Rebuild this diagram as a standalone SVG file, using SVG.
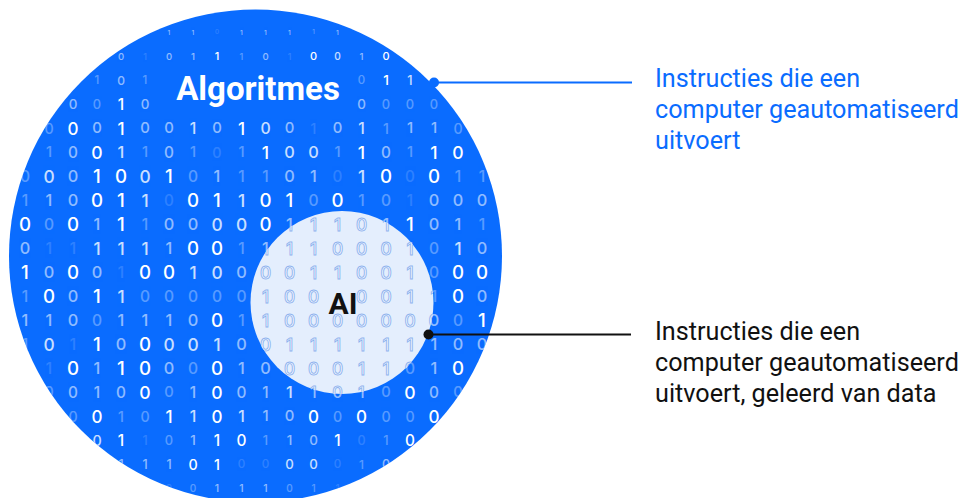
<svg xmlns="http://www.w3.org/2000/svg" xmlns:xlink="http://www.w3.org/1999/xlink" width="965" height="498" viewBox="0 0 965 498">
<style>
.dg{font-family:Inter,Roboto,"Liberation Sans",sans-serif;font-weight:500;text-anchor:middle;dominant-baseline:central}
.L0{opacity:var(--o0,.15);font-size:calc(var(--r)*var(--k0,.9))}
.L1{opacity:var(--o1,.32);font-size:calc(var(--r)*var(--k1,.92))}
.L2{opacity:var(--o2,.55);font-size:calc(var(--r)*var(--k2,.96))}
.L3{opacity:var(--o3,.78);font-size:calc(var(--r)*var(--k3,1.02))}
.L4{opacity:var(--o4,1);font-size:calc(var(--r)*var(--k4,1.1))}
.r0{--r:7px}.r1{--r:10px}.r2{--r:12.5px}.r3{--r:14px}.r4{--r:15.5px}.r5{--r:16px}
.rm{--r:17px}.r15{--r:16px}.r16{--r:15.5px}.r17{--r:14px}.r18{--r:13px}.r19{--r:11px}
.lbl{font-family:Roboto,"Liberation Sans",sans-serif;font-weight:700}
.note{font-family:Roboto,"Liberation Sans",sans-serif;font-size:25.2px}
.inner-digits{--o0:1;--o1:1;--o2:1;--o3:1;--o4:1;--k0:1.02;--k1:1.02;--k2:1.02;--k3:1.02;--k4:1.02}
</style>
<defs>
<clipPath id="cb"><circle cx="255.5" cy="256" r="246.5"/></clipPath>
<clipPath id="ci"><circle cx="342" cy="302.5" r="91.5"/></clipPath>
<g id="digits" class="dg">
<g class="r0" transform="translate(0,32)"><text x="169" class="L2">1</text><text x="193" class="L2">1</text><text x="217" class="L0">0</text><text x="241.5" class="L2">1</text><text x="265.5" class="L2">1</text><text x="289.5" class="L2">1</text><text x="313.5" class="L1">1</text><text x="337.5" class="L2">1</text></g>
<g class="r1" transform="translate(0,56)"><text x="121" class="L2">0</text><text x="145" class="L0">1</text><text x="169" class="L2">0</text><text x="193" class="L2">1</text><text x="217" class="L4">1</text><text x="241.5" class="L1">1</text><text x="265.5" class="L2">0</text><text x="289.5" class="L0">1</text><text x="313.5" class="L4">0</text><text x="337.5" class="L3">0</text><text x="361.5" class="L2">1</text><text x="386" class="L4">0</text></g>
<g class="r2" transform="translate(0,80)"><text x="97" class="L1">1</text><text x="121" class="L2">0</text><text x="145" class="L1">1</text><text x="361.5" class="L1">0</text><text x="386" class="L4">1</text><text x="410" class="L3">1</text></g>
<g class="r3" transform="translate(0,104)"><text x="73" class="L2">0</text><text x="97" class="L1">0</text><text x="121" class="L4">1</text><text x="145" class="L2">0</text><text x="361.5" class="L2">0</text><text x="386" class="L1">0</text><text x="410" class="L1">0</text><text x="434" class="L1">0</text></g>
<g class="r4" transform="translate(0,128)"><text x="49" class="L1">0</text><text x="73" class="L4">0</text><text x="97" class="L2">0</text><text x="121" class="L4">1</text><text x="145" class="L2">0</text><text x="169" class="L2">0</text><text x="193" class="L3">1</text><text x="217" class="L2">0</text><text x="241.5" class="L4">1</text><text x="265.5" class="L3">0</text><text x="289.5" class="L2">0</text><text x="313.5" class="L0">1</text><text x="337.5" class="L2">0</text><text x="361.5" class="L3">1</text><text x="386" class="L1">1</text><text x="410" class="L2">1</text><text x="434" class="L2">1</text><text x="458" class="L1">0</text></g>
<g class="r5" transform="translate(0,152)"><text x="49" class="L1">1</text><text x="73" class="L2">0</text><text x="97" class="L4">0</text><text x="121" class="L3">1</text><text x="145" class="L1">1</text><text x="169" class="L2">0</text><text x="193" class="L1">1</text><text x="217" class="L0">0</text><text x="241.5" class="L1">1</text><text x="265.5" class="L4">1</text><text x="289.5" class="L3">0</text><text x="313.5" class="L3">0</text><text x="337.5" class="L1">1</text><text x="361.5" class="L4">1</text><text x="386" class="L2">0</text><text x="410" class="L1">1</text><text x="434" class="L4">1</text><text x="458" class="L4">0</text></g>
<g class="rm" transform="translate(0,176)"><text x="25" class="L1">0</text><text x="49" class="L3">0</text><text x="73" class="L2">0</text><text x="97" class="L4">1</text><text x="121" class="L4">0</text><text x="145" class="L3">0</text><text x="169" class="L4">1</text><text x="193" class="L1">0</text><text x="217" class="L2">1</text><text x="241.5" class="L1">1</text><text x="265.5" class="L1">1</text><text x="289.5" class="L2">0</text><text x="313.5" class="L2">1</text><text x="337.5" class="L0">0</text><text x="361.5" class="L3">1</text><text x="386" class="L4">0</text><text x="410" class="L0">0</text><text x="434" class="L4">0</text><text x="458" class="L1">1</text><text x="482" class="L1">1</text></g>
<g class="rm" transform="translate(0,200)"><text x="25" class="L1">1</text><text x="49" class="L2">1</text><text x="73" class="L2">0</text><text x="97" class="L4">0</text><text x="121" class="L4">1</text><text x="145" class="L3">1</text><text x="169" class="L0">0</text><text x="193" class="L4">0</text><text x="217" class="L4">1</text><text x="241.5" class="L3">1</text><text x="265.5" class="L4">0</text><text x="289.5" class="L4">1</text><text x="313.5" class="L1">0</text><text x="337.5" class="L4">0</text><text x="361.5" class="L1">1</text><text x="386" class="L1">0</text><text x="410" class="L0">1</text><text x="434" class="L2">0</text><text x="458" class="L2">0</text><text x="482" class="L2">0</text></g>
<g class="rm" transform="translate(0,224)"><text x="25" class="L4">0</text><text x="49" class="L1">0</text><text x="73" class="L4">0</text><text x="97" class="L2">1</text><text x="121" class="L4">1</text><text x="145" class="L1">1</text><text x="169" class="L2">0</text><text x="193" class="L2">0</text><text x="217" class="L3">0</text><text x="241.5" class="L3">0</text><text x="265.5" class="L4">0</text><text x="289.5" class="L2">1</text><text x="313.5" class="L2">1</text><text x="337.5" class="L2">1</text><text x="361.5" class="L2">0</text><text x="386" class="L2">1</text><text x="410" class="L4">1</text><text x="434" class="L2">0</text><text x="458" class="L2">1</text><text x="482" class="L1">1</text></g>
<g class="rm" transform="translate(0,248)"><text x="25" class="L2">0</text><text x="49" class="L0">1</text><text x="73" class="L0">1</text><text x="97" class="L3">1</text><text x="121" class="L3">1</text><text x="145" class="L3">1</text><text x="169" class="L2">1</text><text x="193" class="L4">0</text><text x="217" class="L4">0</text><text x="241.5" class="L1">1</text><text x="265.5" class="L2">1</text><text x="289.5" class="L2">1</text><text x="313.5" class="L2">1</text><text x="337.5" class="L2">0</text><text x="361.5" class="L2">0</text><text x="386" class="L2">0</text><text x="410" class="L2">1</text><text x="434" class="L1">0</text><text x="458" class="L3">1</text><text x="482" class="L2">0</text></g>
<g class="rm" transform="translate(0,272)"><text x="25" class="L4">1</text><text x="49" class="L2">0</text><text x="73" class="L4">0</text><text x="97" class="L2">0</text><text x="121" class="L0">1</text><text x="145" class="L4">0</text><text x="169" class="L4">0</text><text x="193" class="L3">1</text><text x="217" class="L3">0</text><text x="241.5" class="L2">0</text><text x="265.5" class="L2">0</text><text x="289.5" class="L2">0</text><text x="313.5" class="L2">1</text><text x="337.5" class="L2">1</text><text x="361.5" class="L2">0</text><text x="386" class="L2">0</text><text x="410" class="L2">1</text><text x="434" class="L1">0</text><text x="458" class="L4">0</text><text x="482" class="L4">0</text></g>
<g class="rm" transform="translate(0,296)"><text x="25" class="L1">1</text><text x="49" class="L4">0</text><text x="73" class="L2">0</text><text x="97" class="L4">1</text><text x="121" class="L3">1</text><text x="145" class="L1">0</text><text x="169" class="L1">0</text><text x="193" class="L1">0</text><text x="217" class="L1">0</text><text x="241.5" class="L1">0</text><text x="265.5" class="L2">1</text><text x="289.5" class="L2">0</text><text x="313.5" class="L2">0</text><text x="361.5" class="L2">0</text><text x="386" class="L2">0</text><text x="410" class="L2">1</text><text x="434" class="L1">1</text><text x="458" class="L4">0</text><text x="482" class="L2">0</text></g>
<g class="rm" transform="translate(0,320)"><text x="25" class="L2">1</text><text x="49" class="L2">1</text><text x="73" class="L2">0</text><text x="97" class="L1">0</text><text x="121" class="L2">1</text><text x="145" class="L2">1</text><text x="169" class="L2">1</text><text x="193" class="L2">0</text><text x="217" class="L4">0</text><text x="241.5" class="L1">1</text><text x="265.5" class="L2">1</text><text x="289.5" class="L2">0</text><text x="313.5" class="L2">0</text><text x="337.5" class="L2">0</text><text x="361.5" class="L2">0</text><text x="386" class="L2">0</text><text x="410" class="L2">0</text><text x="434" class="L2">0</text><text x="458" class="L1">0</text><text x="482" class="L4">1</text></g>
<g class="rm" transform="translate(0,344)"><text x="25" class="L1">1</text><text x="49" class="L3">0</text><text x="73" class="L0">1</text><text x="97" class="L4">1</text><text x="121" class="L2">0</text><text x="145" class="L4">0</text><text x="169" class="L3">0</text><text x="193" class="L3">0</text><text x="217" class="L3">1</text><text x="241.5" class="L2">0</text><text x="265.5" class="L2">0</text><text x="289.5" class="L2">1</text><text x="313.5" class="L2">1</text><text x="337.5" class="L2">1</text><text x="361.5" class="L2">1</text><text x="386" class="L2">1</text><text x="410" class="L2">1</text><text x="434" class="L2">1</text><text x="458" class="L2">0</text><text x="482" class="L2">0</text></g>
<g class="rm" transform="translate(0,368)"><text x="49" class="L0">1</text><text x="73" class="L4">0</text><text x="97" class="L2">1</text><text x="121" class="L4">1</text><text x="145" class="L4">0</text><text x="169" class="L2">0</text><text x="193" class="L1">0</text><text x="217" class="L4">0</text><text x="241.5" class="L2">1</text><text x="265.5" class="L2">0</text><text x="289.5" class="L2">0</text><text x="313.5" class="L2">0</text><text x="337.5" class="L2">0</text><text x="361.5" class="L2">1</text><text x="386" class="L2">1</text><text x="410" class="L1">0</text><text x="434" class="L2">1</text><text x="458" class="L4">0</text></g>
<g class="r15" transform="translate(0,392)"><text x="49" class="L1">0</text><text x="73" class="L2">0</text><text x="97" class="L2">1</text><text x="121" class="L2">0</text><text x="145" class="L4">0</text><text x="169" class="L1">0</text><text x="193" class="L2">1</text><text x="217" class="L4">0</text><text x="241.5" class="L2">0</text><text x="265.5" class="L2">1</text><text x="289.5" class="L3">1</text><text x="313.5" class="L2">1</text><text x="337.5" class="L2">0</text><text x="361.5" class="L2">1</text><text x="386" class="L1">0</text><text x="410" class="L4">0</text><text x="434" class="L2">0</text><text x="458" class="L1">0</text></g>
<g class="r16" transform="translate(0,416)"><text x="73" class="L1">0</text><text x="97" class="L4">0</text><text x="121" class="L1">1</text><text x="145" class="L1">0</text><text x="169" class="L4">1</text><text x="193" class="L3">1</text><text x="217" class="L4">0</text><text x="241.5" class="L3">1</text><text x="265.5" class="L2">1</text><text x="289.5" class="L2">0</text><text x="313.5" class="L4">0</text><text x="337.5" class="L1">0</text><text x="361.5" class="L4">0</text><text x="386" class="L1">0</text><text x="410" class="L1">0</text><text x="434" class="L4">0</text></g>
<g class="r17" transform="translate(0,440)"><text x="97" class="L3">0</text><text x="121" class="L4">1</text><text x="145" class="L0">1</text><text x="169" class="L1">0</text><text x="193" class="L2">1</text><text x="217" class="L4">1</text><text x="241.5" class="L4">0</text><text x="265.5" class="L1">1</text><text x="289.5" class="L2">1</text><text x="313.5" class="L2">0</text><text x="337.5" class="L4">1</text><text x="361.5" class="L0">0</text><text x="386" class="L1">1</text><text x="410" class="L4">0</text></g>
<g class="r18" transform="translate(0,464)"><text x="121" class="L2">1</text><text x="145" class="L2">1</text><text x="169" class="L2">1</text><text x="193" class="L4">0</text><text x="217" class="L4">1</text><text x="241.5" class="L0">0</text><text x="265.5" class="L0">0</text><text x="289.5" class="L3">0</text><text x="313.5" class="L3">0</text><text x="337.5" class="L0">0</text><text x="361.5" class="L1">1</text><text x="386" class="L2">0</text></g>
<g class="r19" transform="translate(0,488)"><text x="169" class="L0">0</text><text x="193" class="L1">0</text><text x="217" class="L2">1</text><text x="241.5" class="L2">1</text><text x="265.5" class="L2">1</text><text x="289.5" class="L1">0</text><text x="313.5" class="L1">1</text><text x="337.5" class="L0">1</text></g>
</g>
</defs>
<g id="algoritmes">
<circle cx="255.5" cy="256" r="246.5" fill="#0a6cff"/>
<use href="#digits" xlink:href="#digits" clip-path="url(#cb)" fill="#ffffff"/>
<text class="lbl" x="258" y="99.5" font-size="33" fill="#ffffff" text-anchor="middle">Algoritmes</text>
</g>
<g id="ai">
<circle cx="342" cy="302.5" r="91.5" fill="#e4eefd"/>
<use href="#digits" xlink:href="#digits" class="inner-digits" clip-path="url(#ci)" fill="#f7faff" stroke="#8fb3ee" stroke-width="0.9"/>
<text class="lbl" x="343" y="313.5" font-size="30" fill="#111111" text-anchor="middle">AI</text>
</g>
<g id="connectors">
<line x1="434" y1="82.5" x2="632" y2="82.5" stroke="#0a6cff" stroke-width="2"/>
<circle cx="434" cy="82.5" r="5" fill="#0a6cff"/>
<line x1="428.5" y1="334.5" x2="631" y2="334.5" stroke="#111111" stroke-width="2.2"/>
<circle cx="428.5" cy="334.5" r="5" fill="#111111"/>
</g>
<g id="label-algoritmes">
<text class="note" fill="#0a6cff"><tspan x="655" y="87">Instructies die een</tspan><tspan x="655" y="118">computer geautomatiseerd</tspan><tspan x="655" y="149">uitvoert</tspan></text>
</g>
<g id="label-ai">
<text class="note" fill="#111111"><tspan x="655" y="340">Instructies die een</tspan><tspan x="655" y="371">computer geautomatiseerd</tspan><tspan x="655" y="402">uitvoert, geleerd van data</tspan></text>
</g>
</svg>
